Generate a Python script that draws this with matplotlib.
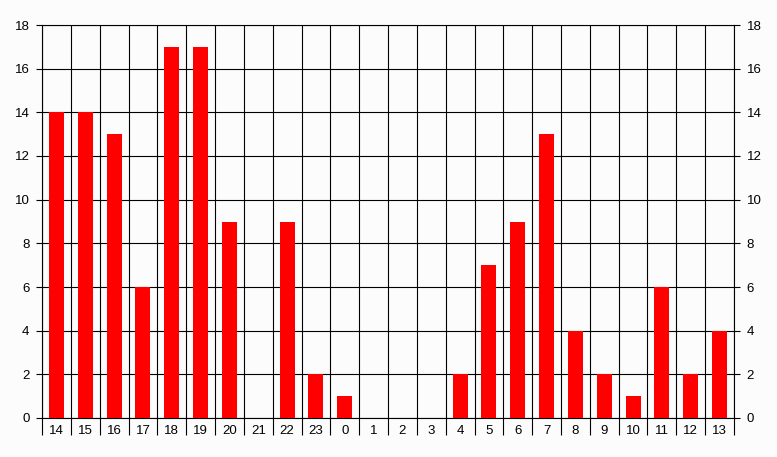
import matplotlib
matplotlib.use("Agg")
import matplotlib.pyplot as plt
import numpy as np

hours = ['14', '15', '16', '17', '18', '19', '20', '21', '22', '23', '0', '1',
         '2', '3', '4', '5', '6', '7', '8', '9', '10', '11', '12', '13']
counts = [14, 14, 13, 6, 17, 17, 9, 0, 9, 2, 1, 0,
          0, 0, 2, 7, 9, 13, 4, 2, 1, 6, 2, 4]

plt.rcParams['font.family'] = ['Liberation Sans', 'DejaVu Sans']

fig = plt.figure(figsize=(7.77, 4.57), dpi=100, facecolor='#fcfcfc')
ax = fig.add_axes([42 / 777, 39 / 457, 692 / 777, 393 / 457])
ax.set_facecolor('#fcfcfc')

x = np.arange(len(hours))
ax.bar(x, counts, width=0.52, color='#ff0000', zorder=3)

ax.set_xlim(-0.5, len(hours) - 0.5)
ax.set_ylim(0, 18)
ax.set_yticks(range(0, 19, 2))
ax.set_xticks(x)
ax.set_xticklabels(hours)
ax.set_xticks(np.arange(-0.5, len(hours), 1), minor=True)

ax.grid(axis='y', which='major', color='black', lw=0.8, zorder=1)
ax.grid(axis='x', which='minor', color='black', lw=0.8, zorder=1)

ax.tick_params(axis='x', which='major', length=0, pad=5, labelsize=9.5)
ax.tick_params(axis='x', which='minor', length=12, width=0.8, color='black')
ax.tick_params(axis='y', length=4, width=0.8, labelsize=9.5,
               left=True, right=True, labelleft=True, labelright=True, pad=5)

for s in ax.spines.values():
    s.set_color('black')
    s.set_linewidth(0.8)

fig.savefig('out.png', dpi=100, facecolor=fig.get_facecolor())
